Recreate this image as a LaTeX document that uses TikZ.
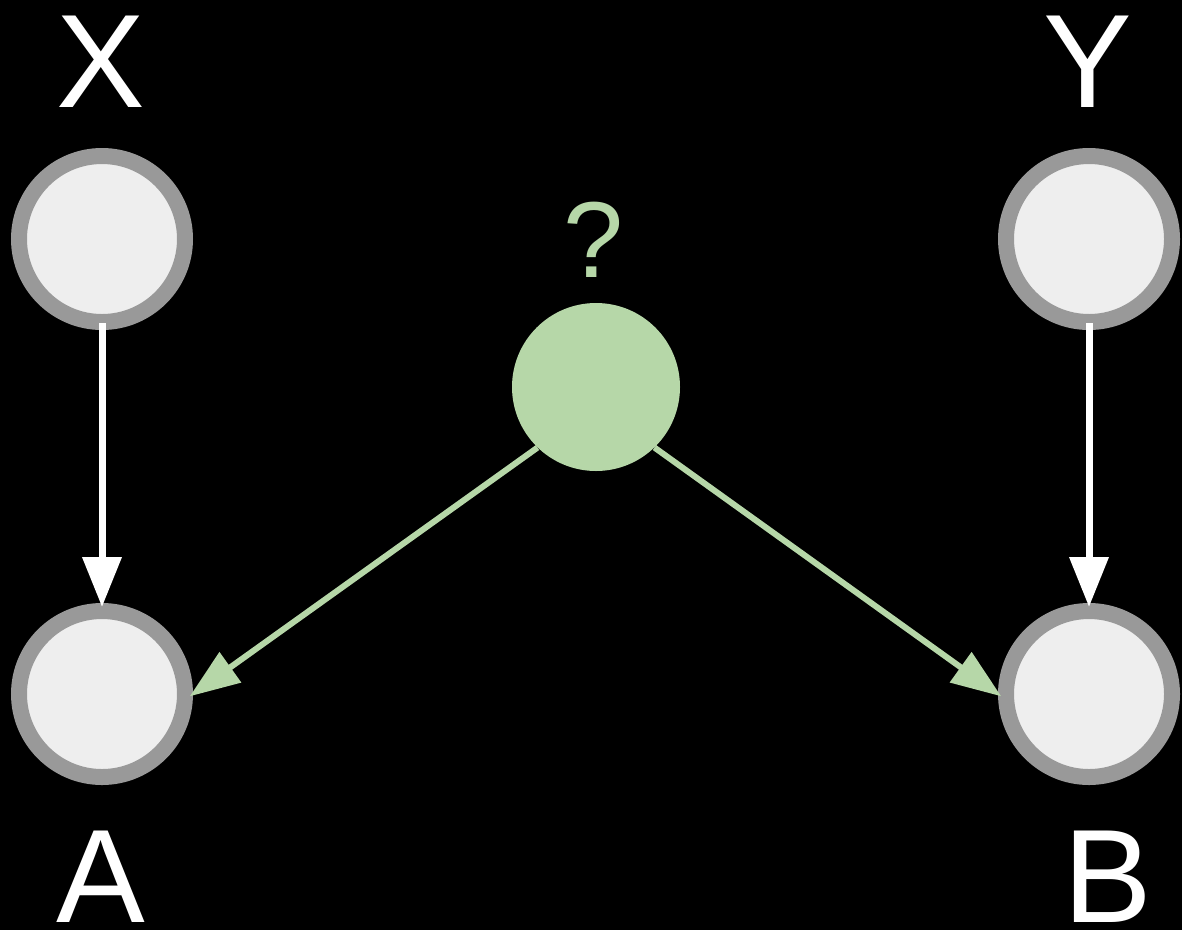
\documentclass[tikz,border=0pt]{standalone}
\usepackage{fontspec}
\setmainfont{Liberation Sans}
\usetikzlibrary{arrows.meta}
\definecolor{ringgray}{HTML}{999999}
\definecolor{nodefill}{HTML}{EEEEEE}
\definecolor{latgreen}{HTML}{B6D7A8}
\tikzset{
  obs/.style={circle, draw=ringgray, fill=nodefill, line width=16pt, minimum size=166pt, inner sep=0pt},
  hidden/.style={circle, fill=latgreen, minimum size=168pt, inner sep=0pt},
  biglabel/.style={anchor=base, text=white, inner sep=0pt, font=\fontsize{133}{133}\selectfont},
  qlabel/.style={anchor=base, text=latgreen, inner sep=0pt, font=\fontsize{108}{108}\selectfont},
  whitearrow/.style={draw=white, line width=7pt, -{Triangle[length=50pt,width=38pt]}},
  greenarrow/.style={draw=latgreen, line width=6pt, -{Triangle[length=50pt,width=36pt]}}
}
\begin{document}
\begin{tikzpicture}[x=1pt,y=-1pt]
\fill[black] (0,0) rectangle (1182,930);
\useasboundingbox (0,0) rectangle (1182,930);
\node[obs] (X) at (102,239) {};
\node[obs] (Y) at (1089,239) {};
\node[obs] (A) at (102,694) {};
\node[obs] (B) at (1089,694) {};
\node[hidden] (H) at (596,387) {};
\node[biglabel] (lx) at (101,107) {X};
\node[biglabel] (ly) at (1088,107) {Y};
\node[biglabel] (la) at (101,922) {A};
\node[biglabel] (lb) at (1108,922) {B};
\node[qlabel] (lq) at (594,277) {?};
\draw[whitearrow, shorten <=-7pt, shorten >=-4pt] (X.south) -- (A.north);
\draw[whitearrow, shorten <=-7pt, shorten >=-4pt] (Y.south) -- (B.north);
\draw[greenarrow, shorten >=-4pt] (H.226) -- (A.east);
\draw[greenarrow, shorten >=-4pt] (H.314) -- (B.west);
\end{tikzpicture}
\end{document}
